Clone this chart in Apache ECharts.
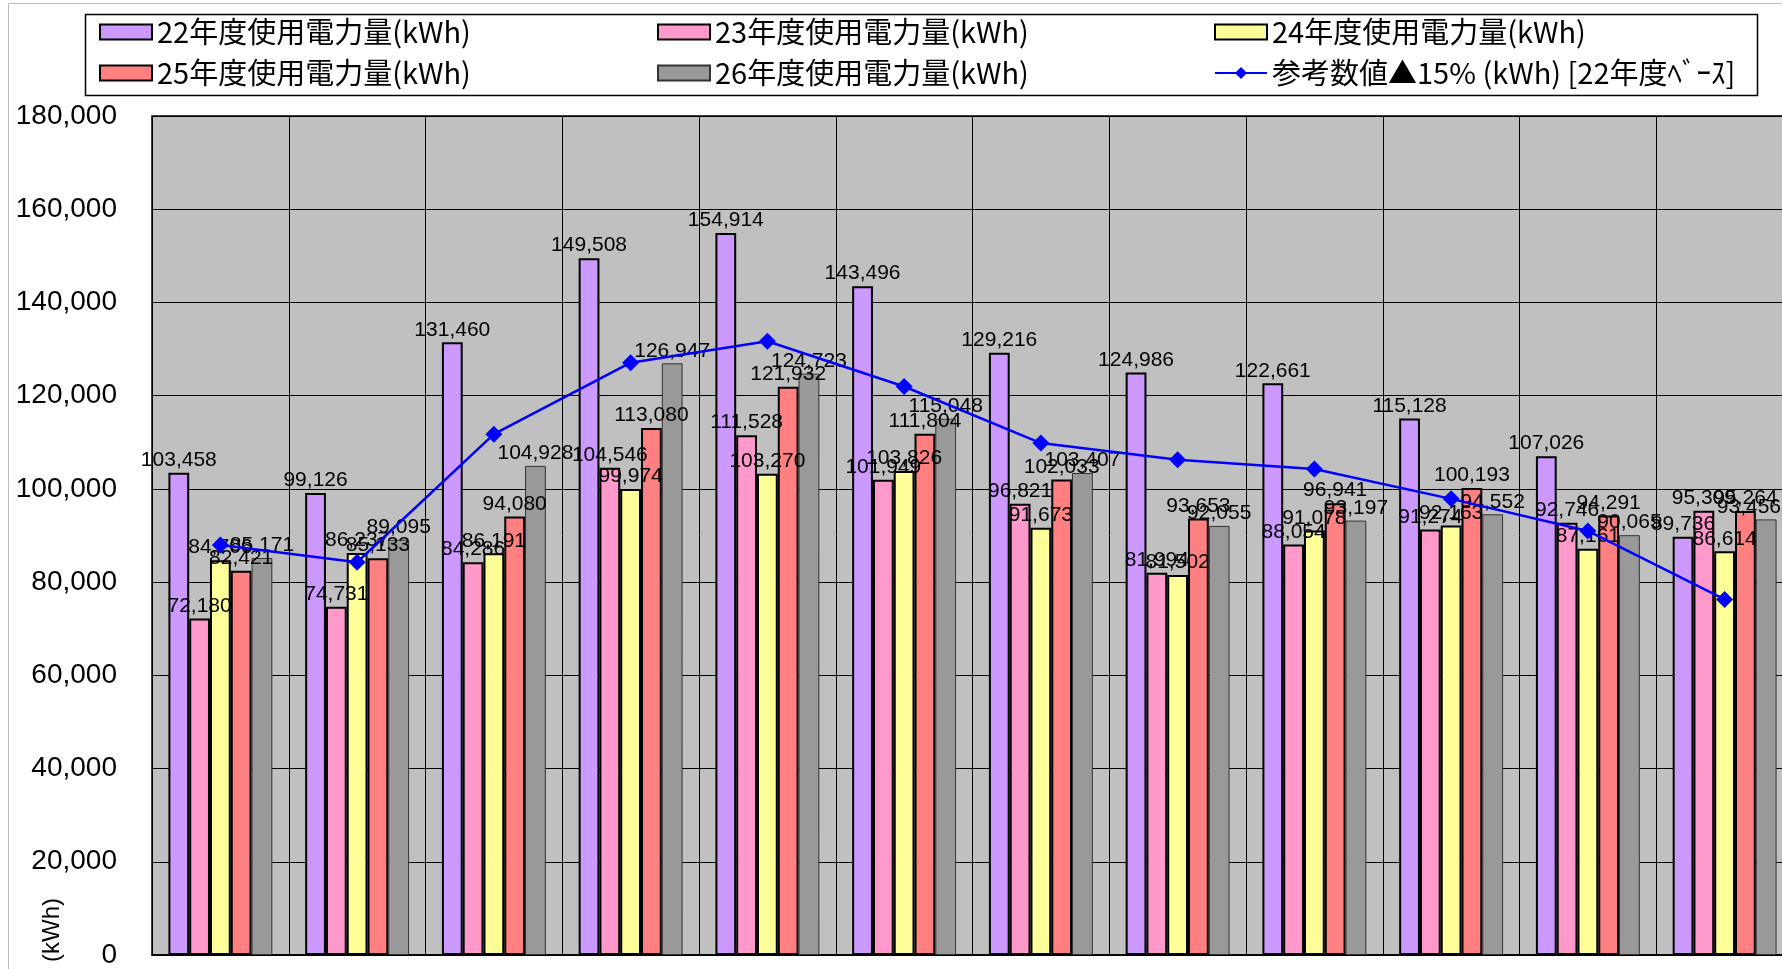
<!DOCTYPE html>
<html>
<head>
<meta charset="utf-8">
<script src="https://cdn.jsdelivr.net/npm/echarts@6/dist/echarts.min.js"></script>
<style>
  html, body { margin: 0; padding: 0; background: #fff; overflow: hidden; }
  #chart { width: 1800px; height: 969px; }
</style>
</head>
<body>
<div id="chart"></div>
<script>
// 月（軸ラベルは画像の外で見えない）
const months = ['4月', '5月', '6月', '7月', '8月', '9月', '10月', '11月', '12月', '1月', '2月', '3月'];
const use22 = [103458, 99126, 131460, 149508, 154914, 143496, 129216, 124986, 122661, 115128, 107026, 89736];
const use23 = [72180, 74731, 84286, 104546, 111528, 101949, 96821, 81994, 88054, 91274, 92746, 95309];
const use24 = [84706, 86237, 86191, 99974, 103270, 103826, 91673, 81502, 91078, 92163, 87161, 86614];
const use25 = [82421, 85133, 94080, 113080, 121932, 111804, 102033, 93653, 96941, 100193, 94291, 95264];
const use26 = [85171, 89095, 104928, 126947, 124723, 115048, 103407, 92055, 93197, 94552, 90065, 93456];
// 参考数値 ▲15%（22年度ベース）
const refLine = [87939, 84257, 111741, 127082, 131677, 121972, 109834, 106238, 104262, 97859, 90972, 76276];
const yTicks = { min: 0, max: 180000, interval: 20000 };

const names = [
  '22年度使用電力量(kWh)', '23年度使用電力量(kWh)', '24年度使用電力量(kWh)',
  '25年度使用電力量(kWh)', '26年度使用電力量(kWh)', '参考数値▲15% (kWh) [22年度ﾍﾞｰｽ]'
];

const chart = echarts.init(document.getElementById('chart'));

const labelFont = 'Liberation Sans, Arial, sans-serif';
const legendText = { fontSize: 29, fontFamily: 'Noto Sans CJK JP', color: '#000', lineHeight: 30 };

function barSeries(name, data, color, border, bw) {
  return {
    name: name,
    type: 'bar',
    data: data,
    barGap: '0%',
    barCategoryGap: '24%',
    itemStyle: { color: color, borderColor: border, borderWidth: bw },
    label: {
      show: true,
      position: 'top',
      distance: 2,
      fontSize: 21,
      fontFamily: labelFont,
      color: '#000',
      formatter: function (p) { return echarts.format.addCommas(p.value); }
    },
    labelLayout: function (p) {
      // 右端ではみ出すラベルは内側へ寄せる
      const r = p.labelRect;
      if (r.x + r.width > 1781) {
        return { dx: 1781 - (r.x + r.width) };
      }
    }
  };
}

function legendCol(left, data) {
  return {
    orient: 'vertical',
    left: left,
    top: 17,
    padding: 0,
    itemWidth: 52,
    itemHeight: 15,
    itemGap: 11,
    data: data,
    textStyle: legendText
  };
}

function rectItem(name) {
  return { name: name, icon: 'rect' };
}

const option = {
  animation: false,
  backgroundColor: '#fff',
  legend: [
    legendCol(99, [rectItem(names[0]), rectItem(names[3])]),
    legendCol(657, [rectItem(names[1]), rectItem(names[4])]),
    legendCol(1214, [rectItem(names[2]), { name: names[5] }])
  ],
  grid: {
    left: 152,
    right: 7,
    top: 116,
    bottom: 10,
    show: true,
    backgroundColor: '#C0C0C0',
    borderColor: '#000',
    borderWidth: 1.5
  },
  xAxis: {
    type: 'category',
    data: months,
    axisLabel: { show: false },
    axisTick: { show: false },
    axisLine: { lineStyle: { color: '#000', width: 1.5 } },
    splitLine: { show: true, lineStyle: { color: '#000', width: 1 } }
  },
  yAxis: {
    type: 'value',
    min: yTicks.min,
    max: yTicks.max,
    interval: yTicks.interval,
    axisLine: { show: false },
    axisTick: { show: false },
    axisLabel: {
      margin: 35,
      fontSize: 28,
      fontFamily: labelFont,
      color: '#000',
      formatter: function (v) { return echarts.format.addCommas(v); }
    },
    splitLine: { lineStyle: { color: '#000', width: 1 } }
  },
  graphic: [
    {
      type: 'rect',
      silent: true,
      z: -1,
      shape: { x: 8.5, y: 3.5, width: 1900, height: 1000 },
      style: { fill: 'none', stroke: '#bdbdbd', lineWidth: 1 }
    },
    {
      type: 'rect',
      silent: true,
      shape: { x: 85.5, y: 14.5, width: 1672, height: 81 },
      style: { fill: 'none', stroke: '#000', lineWidth: 1.5 }
    },
    {
      type: 'text',
      silent: true,
      x: 52,
      y: 930,
      rotation: Math.PI / 2,
      style: {
        text: '(kWh)',
        fontSize: 24,
        fontFamily: labelFont,
        fill: '#000',
        align: 'center',
        verticalAlign: 'middle'
      }
    }
  ],
  series: [
    barSeries(names[0], use22, '#CC99FF', '#000', 2),
    barSeries(names[1], use23, '#FF99CC', '#000', 2),
    barSeries(names[2], use24, '#FFFF99', '#000', 2),
    barSeries(names[3], use25, '#FF8080', '#000', 2),
    barSeries(names[4], use26, '#999999', '#333', 1),
    {
      name: names[5],
      type: 'line',
      data: refLine,
      z: 5,
      symbol: 'diamond',
      symbolSize: 17,
      itemStyle: { color: '#0000FF' },
      lineStyle: { color: '#0000FF', width: 2.5 }
    }
  ]
};

chart.setOption(option);
</script>
</body>
</html>
